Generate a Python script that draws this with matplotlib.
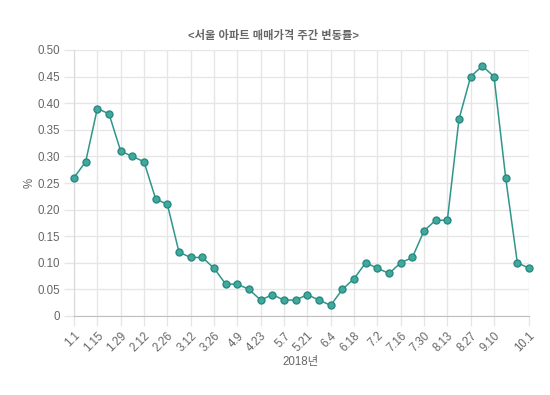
import matplotlib
matplotlib.use("Agg")
import matplotlib.pyplot as plt
import numpy as np

plt.rcParams["font.family"] = ["Liberation Sans", "Noto Sans CJK KR"]

# weekly dates (2018) and weekly change in Seoul apartment prices, %
weeks = ["1.1", "1.8", "1.15", "1.22", "1.29", "2.5", "2.12", "2.19", "2.26", "3.5",
         "3.12", "3.19", "3.26", "4.2", "4.9", "4.16", "4.23", "4.30", "5.7", "5.14",
         "5.21", "5.28", "6.4", "6.11", "6.18", "6.25", "7.2", "7.9", "7.16", "7.23",
         "7.30", "8.6", "8.13", "8.20", "8.27", "9.3", "9.10", "9.17", "9.24", "10.1"]
change = [0.26, 0.29, 0.39, 0.38, 0.31, 0.30, 0.29, 0.22, 0.21, 0.12,
          0.11, 0.11, 0.09, 0.06, 0.06, 0.05, 0.03, 0.04, 0.03, 0.03,
          0.04, 0.03, 0.02, 0.05, 0.07, 0.10, 0.09, 0.08, 0.10, 0.11,
          0.16, 0.18, 0.18, 0.37, 0.45, 0.47, 0.45, 0.26, 0.10, 0.09]

title = "<서울 아파트 매매가격 주간 변동률>"
xlabel = "2018년"
ylabel = "%"

grid_c = "#e6e6e6"
text_c = "#666666"

fig = plt.figure(figsize=(5.5, 3.95), dpi=100)
ax = fig.add_axes([74 / 550, 1 - 316 / 395, (529 - 74) / 550, (316 - 50) / 395])

x = np.arange(len(weeks))
ax.plot(x, change, color="#2f968b", lw=1.1, marker="o", ms=5,
        mfc="#40a99d", mec="#2a8a80", mew=1.0, zorder=3, clip_on=False)

ax.set_xlim(0, len(weeks) - 1)
ax.set_ylim(0, 0.5)

# chart.js autoskip: every 2nd label, plus the last one
tick_idx = list(range(0, len(weeks) - 2, 2)) + [len(weeks) - 1]
ax.set_xticks(tick_idx)
ax.set_xticklabels([weeks[i] for i in tick_idx], rotation=45, ha="right",
                   va="top", rotation_mode="anchor")
yt = np.arange(0, 0.51, 0.05)
ax.set_yticks(yt)
ax.set_yticklabels(["0"] + [f"{v:.2f}" for v in yt[1:]])

ax.grid(True, color=grid_c, lw=1)
ax.set_axisbelow(True)
ax.tick_params(length=7, width=1, color=grid_c, labelcolor=text_c,
               labelsize=8.3, pad=3)

for s in ["top", "right"]:
    ax.spines[s].set_visible(False)
ax.spines["left"].set_color("#d9d9d9")
ax.spines["bottom"].set_color("#bfbfbf")

fig.text(274 / 550, 1 - 35 / 395, title, ha="center", va="center",
         fontsize=8.1, fontweight="bold", color=text_c)
fig.text(301 / 550, 1 - 362 / 395, xlabel, ha="center", va="center",
         fontsize=8.3, color=text_c)
fig.text(30 / 550, 1 - 183 / 395, ylabel, ha="center", va="center",
         fontsize=8.3, color=text_c, rotation=90)

fig.savefig("out.png", dpi=100)
